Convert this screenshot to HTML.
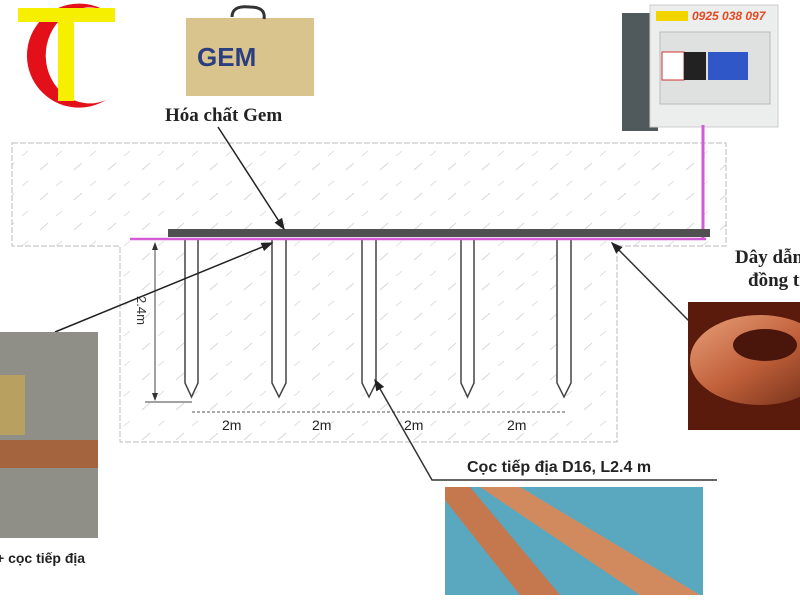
<!DOCTYPE html>
<html><head><meta charset="utf-8"><style>body{margin:0;background:#fff}svg{display:block}</style></head><body>
<svg width="800" height="600" viewBox="0 0 800 600" xmlns="http://www.w3.org/2000/svg">
<defs>
<pattern id="h" width="34" height="30" patternUnits="userSpaceOnUse"><line x1="6" y1="20" x2="14" y2="13" stroke="#d8d8d8" stroke-width="1"/><line x1="22" y1="6" x2="28" y2="1" stroke="#e0e0e0"/></pattern>
<marker id="a" markerWidth="8" markerHeight="8" refX="7" refY="4" orient="auto"><path d="M0,1 L8,4 L0,7z" fill="#222"/></marker>
<marker id="d" markerWidth="8" markerHeight="6" refX="7" refY="3" orient="auto-start-reverse"><path d="M0,0 L8,3 L0,6z" fill="#333"/></marker>
<linearGradient id="cu" x1="0" y1="0" x2="1" y2="1"><stop offset="0" stop-color="#e8a07a"/><stop offset=".5" stop-color="#c0603a"/><stop offset="1" stop-color="#6a2a15"/></linearGradient>
</defs>
<!-- logo -->
<path d="M104,10 A52,52 0 1 0 106,100 A44,48 0 1 1 104,10z" fill="#e3101a"/>
<rect x="18" y="8" width="97" height="14" fill="#f7ef00"/>
<rect x="58" y="8" width="16" height="93" fill="#f7ef00"/>
<!-- gem bag -->
<rect x="186" y="18" width="128" height="78" fill="#d9c48d"/>
<path d="M232,17 q0,-12 18,-10 q16,0 14,12" fill="none" stroke="#333" stroke-width="3"/>
<text x="197" y="66" font-family="Liberation Sans,sans-serif" font-weight="bold" font-size="26" fill="#2b3f80">GEM</text>
<text x="165" y="121" font-family="Liberation Serif,serif" font-weight="bold" font-size="19" fill="#222">Hóa chất Gem</text>
<!-- electric box -->
<rect x="622" y="13" width="36" height="118" fill="#505a5c"/>
<rect x="650" y="5" width="128" height="122" fill="#eceeed" stroke="#ccc"/>
<rect x="656" y="11" width="32" height="10" fill="#f2d500"/>
<text x="692" y="20" font-family="Liberation Sans,sans-serif" font-style="italic" font-weight="bold" font-size="12" fill="#e8461e">0925 038 097</text>
<rect x="660" y="32" width="110" height="72" fill="#dfe1e0" stroke="#bbb"/>
<rect x="662" y="52" width="22" height="28" fill="#fff" stroke="#c33"/>
<rect x="684" y="52" width="22" height="28" fill="#222"/>
<rect x="708" y="52" width="40" height="28" fill="#2f57c8"/>
<!-- soil -->
<path d="M12,143 H726 V246 H617 V442 H120 V246 H12z" fill="url(#h)" stroke="#bbb" stroke-dasharray="6,2"/>
<!-- rods -->
<g fill="#fff" stroke="#444" stroke-width="1.5">
<path d="M185,238 V383 L191.5,397 L198,383 V238"/>
<path d="M272,238 V383 L279,397 L286,383 V238"/>
<path d="M362,238 V383 L369,397 L376,383 V238"/>
<path d="M461,238 V383 L467.5,397 L474,383 V238"/>
<path d="M557,238 V383 L564,397 L571,383 V238"/>
</g>
<line x1="703" y1="125" x2="703" y2="238" stroke="#d65bd6" stroke-width="3"/>
<rect x="168" y="229" width="542" height="8" fill="#505050"/>
<line x1="130" y1="239" x2="706" y2="239" stroke="#d65bd6" stroke-width="2.5"/>
<!-- dims -->
<line x1="155" y1="243" x2="155" y2="400" stroke="#444" marker-start="url(#d)" marker-end="url(#d)"/>
<line x1="145" y1="402" x2="192" y2="402" stroke="#444"/>
<text transform="translate(137,296) rotate(90)" font-family="Liberation Sans,sans-serif" font-size="13" fill="#333">2.4m</text>
<g stroke="#555" stroke-dasharray="3,2"><line x1="192" y1="412" x2="565" y2="412"/></g>
<g font-family="Liberation Sans,sans-serif" font-size="14" fill="#222">
<text x="222" y="430">2m</text><text x="312" y="430">2m</text><text x="404" y="430">2m</text><text x="507" y="430">2m</text></g>
<!-- leaders -->
<line x1="218" y1="127" x2="284" y2="229" stroke="#222" stroke-width="1.5" marker-end="url(#a)"/>
<line x1="55" y1="332" x2="272" y2="243" stroke="#222" stroke-width="1.5" marker-end="url(#a)"/>
<polyline points="717,480 432,480 375,380" fill="none" stroke="#333" stroke-width="1.5" marker-end="url(#a)"/>
<polyline points="800,320 688,320 612,243" fill="none" stroke="#333" stroke-width="1.5" marker-end="url(#a)"/>
<text x="467" y="472" font-family="Liberation Sans,sans-serif" font-weight="bold" font-size="16" fill="#222">Cọc tiếp địa D16, L2.4 m</text>
<text x="735" y="263" font-family="Liberation Serif,serif" font-weight="bold" font-size="19" fill="#222">Dây dẫn</text>
<text x="748" y="286" font-family="Liberation Serif,serif" font-weight="bold" font-size="19" fill="#222">đồng trần</text>
<!-- photos -->
<rect x="0" y="332" width="98" height="206" fill="#8f8f88"/>
<rect x="0" y="440" width="98" height="28" fill="#a4643e"/>
<rect x="0" y="375" width="25" height="60" fill="#b8a060"/>
<text x="-4" y="563" font-family="Liberation Sans,sans-serif" font-weight="bold" font-size="14" fill="#222">+ cọc tiếp địa</text>
<rect x="688" y="302" width="112" height="128" fill="#5a1a0c"/>
<ellipse cx="760" cy="360" rx="70" ry="45" fill="url(#cu)"/>
<ellipse cx="765" cy="345" rx="32" ry="16" fill="#4a150a"/>
<rect x="445" y="487" width="258" height="108" fill="#5aa8c0"/>
<path d="M445,500 L520,595 H560 L470,487 H445z" fill="#c5774e"/>
<path d="M480,487 L640,595 H700 L520,487z" fill="#d08a5e"/>
</svg>
</body></html>
